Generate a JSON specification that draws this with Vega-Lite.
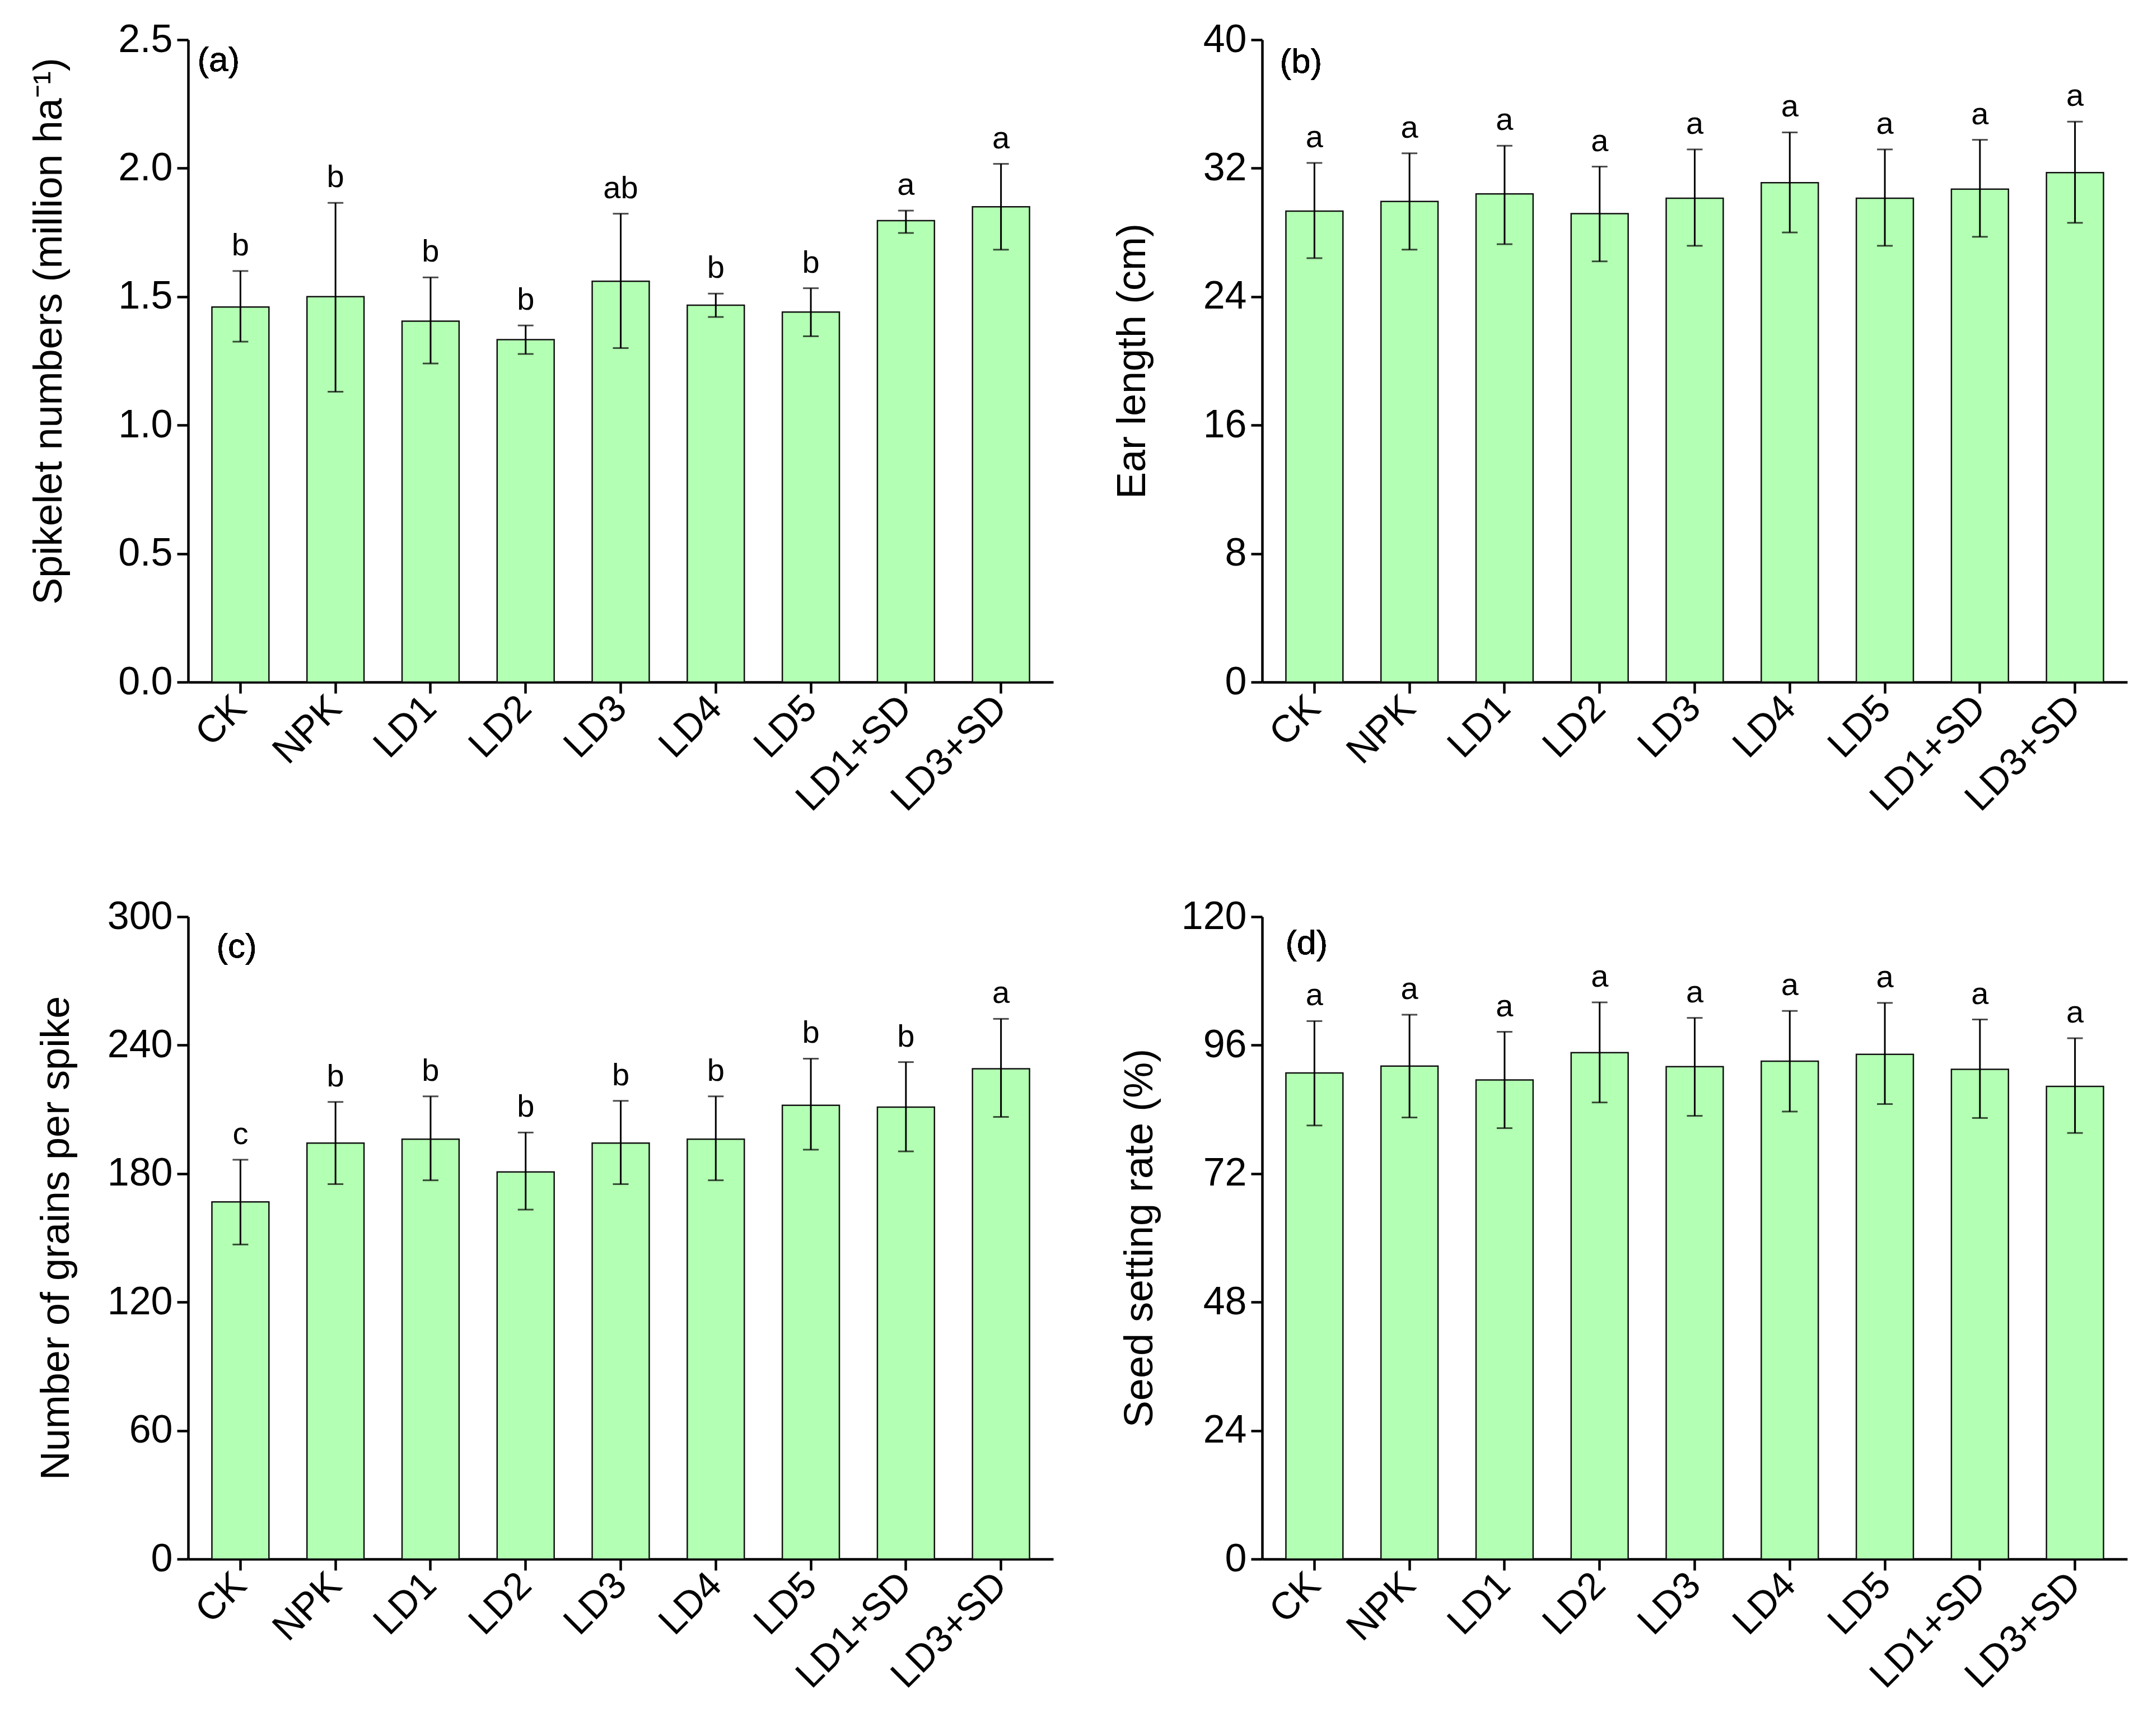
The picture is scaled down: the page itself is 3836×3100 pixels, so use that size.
{
  "$schema": "https://vega.github.io/schema/vega-lite/v6.json",
  "background": "white",
  "padding": {"left": 51, "top": 36, "right": 30, "bottom": 30},
  "datasets": {
    "a": [
      {"trt": "CK", "mean": 1.46, "lo": 1.325, "hi": 1.60, "letter": "b"},
      {"trt": "NPK", "mean": 1.50, "lo": 1.13, "hi": 1.865, "letter": "b"},
      {"trt": "LD1", "mean": 1.405, "lo": 1.24, "hi": 1.575, "letter": "b"},
      {"trt": "LD2", "mean": 1.333, "lo": 1.277, "hi": 1.388, "letter": "b"},
      {"trt": "LD3", "mean": 1.56, "lo": 1.30, "hi": 1.823, "letter": "ab"},
      {"trt": "LD4", "mean": 1.467, "lo": 1.421, "hi": 1.512, "letter": "b"},
      {"trt": "LD5", "mean": 1.44, "lo": 1.346, "hi": 1.533, "letter": "b"},
      {"trt": "LD1+SD", "mean": 1.796, "lo": 1.748, "hi": 1.835, "letter": "a"},
      {"trt": "LD3+SD", "mean": 1.85, "lo": 1.683, "hi": 2.017, "letter": "a"}
    ],
    "b": [
      {"trt": "CK", "mean": 29.33, "lo": 26.4, "hi": 32.33, "letter": "a"},
      {"trt": "NPK", "mean": 29.93, "lo": 26.93, "hi": 32.93, "letter": "a"},
      {"trt": "LD1", "mean": 30.4, "lo": 27.27, "hi": 33.4, "letter": "a"},
      {"trt": "LD2", "mean": 29.17, "lo": 26.2, "hi": 32.1, "letter": "a"},
      {"trt": "LD3", "mean": 30.13, "lo": 27.17, "hi": 33.17, "letter": "a"},
      {"trt": "LD4", "mean": 31.1, "lo": 28.0, "hi": 34.23, "letter": "a"},
      {"trt": "LD5", "mean": 30.13, "lo": 27.17, "hi": 33.17, "letter": "a"},
      {"trt": "LD1+SD", "mean": 30.7, "lo": 27.73, "hi": 33.77, "letter": "a"},
      {"trt": "LD3+SD", "mean": 31.73, "lo": 28.6, "hi": 34.9, "letter": "a"}
    ],
    "c": [
      {"trt": "CK", "mean": 166.8, "lo": 146.9, "hi": 186.5, "letter": "c"},
      {"trt": "NPK", "mean": 194.3, "lo": 175.1, "hi": 213.5, "letter": "b"},
      {"trt": "LD1", "mean": 196.1, "lo": 176.9, "hi": 216.1, "letter": "b"},
      {"trt": "LD2", "mean": 180.8, "lo": 163.2, "hi": 199.2, "letter": "b"},
      {"trt": "LD3", "mean": 194.3, "lo": 175.1, "hi": 214.0, "letter": "b"},
      {"trt": "LD4", "mean": 196.1, "lo": 176.9, "hi": 216.1, "letter": "b"},
      {"trt": "LD5", "mean": 211.9, "lo": 191.2, "hi": 233.7, "letter": "b"},
      {"trt": "LD1+SD", "mean": 211.1, "lo": 190.4, "hi": 232.1, "letter": "b"},
      {"trt": "LD3+SD", "mean": 229.0, "lo": 206.5, "hi": 252.3, "letter": "a"}
    ],
    "d": [
      {"trt": "CK", "mean": 90.8, "lo": 81.0, "hi": 100.5, "letter": "a"},
      {"trt": "NPK", "mean": 92.1, "lo": 82.5, "hi": 101.7, "letter": "a"},
      {"trt": "LD1", "mean": 89.5, "lo": 80.5, "hi": 98.5, "letter": "a"},
      {"trt": "LD2", "mean": 94.6, "lo": 85.3, "hi": 104.0, "letter": "a"},
      {"trt": "LD3", "mean": 92.0, "lo": 82.8, "hi": 101.1, "letter": "a"},
      {"trt": "LD4", "mean": 93.0, "lo": 83.6, "hi": 102.4, "letter": "a"},
      {"trt": "LD5", "mean": 94.3, "lo": 85.0, "hi": 103.9, "letter": "a"},
      {"trt": "LD1+SD", "mean": 91.5, "lo": 82.4, "hi": 100.8, "letter": "a"},
      {"trt": "LD3+SD", "mean": 88.3, "lo": 79.6, "hi": 97.3, "letter": "a"}
    ]
  },
  "columns": 2,
  "spacing": {"row": 140, "column": 105},
  "concat": [
    {
      "width": 1545, "height": 1147,
      "data": {"name": "a"},
      "encoding": {
        "x": {"field": "trt", "type": "nominal", "sort": null, "scale": {"paddingInner": 0.4, "paddingOuter": 0.25}, "axis": {"title": null}}
      },
      "layer": [
        {"mark": {"type": "bar", "fill": "#b3ffb3", "stroke": "#111111", "strokeWidth": 2.5},
         "encoding": {"y": {"field": "mean", "type": "quantitative", "title": "Spikelet numbers (million ha⁻¹)", "scale": {"domain": [0, 2.5], "nice": false}, "axis": {"values": [0, 0.5, 1.0, 1.5, 2.0, 2.5], "format": ".1f", "titlePadding": 86, "titleY": 520}}}},
        {"mark": {"type": "errorbar", "ticks": {"size": 28, "thickness": 3, "color": "black"}, "rule": {"strokeWidth": 3, "color": "black"}},
         "encoding": {"y": {"field": "lo", "type": "quantitative", "title": "Spikelet numbers (million ha⁻¹)"}, "y2": {"field": "hi"}}},
        {"mark": {"type": "text", "fontSize": 56, "baseline": "alphabetic", "dy": -28, "color": "black"},
         "encoding": {"y": {"field": "hi", "type": "quantitative", "title": "Spikelet numbers (million ha⁻¹)"}, "text": {"field": "letter"}}},
        {"mark": {"type": "text", "fontSize": 62, "align": "left", "baseline": "middle", "dx": -77, "color": "black"},
         "encoding": {"x": {"datum": "CK"}, "y": {"datum": 2.42, "title": "Spikelet numbers (million ha⁻¹)"}, "text": {"value": "(a)"}}}
      ]
    },
    {
      "width": 1545, "height": 1147,
      "data": {"name": "b"},
      "encoding": {
        "x": {"field": "trt", "type": "nominal", "sort": null, "scale": {"paddingInner": 0.4, "paddingOuter": 0.25}, "axis": {"title": null}}
      },
      "layer": [
        {"mark": {"type": "bar", "fill": "#b3ffb3", "stroke": "#111111", "strokeWidth": 2.5},
         "encoding": {"y": {"field": "mean", "type": "quantitative", "title": "Ear length (cm)", "scale": {"domain": [0, 40], "nice": false}, "axis": {"values": [0, 8, 16, 24, 32, 40], "titlePadding": 89}}}},
        {"mark": {"type": "errorbar", "ticks": {"size": 28, "thickness": 3, "color": "black"}, "rule": {"strokeWidth": 3, "color": "black"}},
         "encoding": {"y": {"field": "lo", "type": "quantitative", "title": "Ear length (cm)"}, "y2": {"field": "hi"}}},
        {"mark": {"type": "text", "fontSize": 56, "baseline": "alphabetic", "dy": -28, "color": "black"},
         "encoding": {"y": {"field": "hi", "type": "quantitative", "title": "Ear length (cm)"}, "text": {"field": "letter"}}},
        {"mark": {"type": "text", "fontSize": 62, "align": "left", "baseline": "middle", "dx": -62, "color": "black"},
         "encoding": {"x": {"datum": "CK"}, "y": {"datum": 38.6, "title": "Ear length (cm)"}, "text": {"value": "(b)"}}}
      ]
    },
    {
      "width": 1545, "height": 1147,
      "data": {"name": "c"},
      "encoding": {
        "x": {"field": "trt", "type": "nominal", "sort": null, "scale": {"paddingInner": 0.4, "paddingOuter": 0.25}, "axis": {"title": null}}
      },
      "layer": [
        {"mark": {"type": "bar", "fill": "#b3ffb3", "stroke": "#111111", "strokeWidth": 2.5},
         "encoding": {"y": {"field": "mean", "type": "quantitative", "title": "Number of grains per spike", "scale": {"domain": [0, 300], "nice": false}, "axis": {"values": [0, 60, 120, 180, 240, 300], "titlePadding": 54}}}},
        {"mark": {"type": "errorbar", "ticks": {"size": 28, "thickness": 3, "color": "black"}, "rule": {"strokeWidth": 3, "color": "black"}},
         "encoding": {"y": {"field": "lo", "type": "quantitative", "title": "Number of grains per spike"}, "y2": {"field": "hi"}}},
        {"mark": {"type": "text", "fontSize": 56, "baseline": "alphabetic", "dy": -28, "color": "black"},
         "encoding": {"y": {"field": "hi", "type": "quantitative", "title": "Number of grains per spike"}, "text": {"field": "letter"}}},
        {"mark": {"type": "text", "fontSize": 62, "align": "left", "baseline": "middle", "dx": -43, "color": "black"},
         "encoding": {"x": {"datum": "CK"}, "y": {"datum": 286, "title": "Number of grains per spike"}, "text": {"value": "(c)"}}}
      ]
    },
    {
      "width": 1545, "height": 1147,
      "data": {"name": "d"},
      "encoding": {
        "x": {"field": "trt", "type": "nominal", "sort": null, "scale": {"paddingInner": 0.4, "paddingOuter": 0.25}, "axis": {"title": null}}
      },
      "layer": [
        {"mark": {"type": "bar", "fill": "#b3ffb3", "stroke": "#111111", "strokeWidth": 2.5},
         "encoding": {"y": {"field": "mean", "type": "quantitative", "title": "Seed setting rate (%)", "scale": {"domain": [0, 120], "nice": false}, "axis": {"values": [0, 24, 48, 72, 96, 120], "titlePadding": 37}}}},
        {"mark": {"type": "errorbar", "ticks": {"size": 28, "thickness": 3, "color": "black"}, "rule": {"strokeWidth": 3, "color": "black"}},
         "encoding": {"y": {"field": "lo", "type": "quantitative", "title": "Seed setting rate (%)"}, "y2": {"field": "hi"}}},
        {"mark": {"type": "text", "fontSize": 56, "baseline": "alphabetic", "dy": -28, "color": "black"},
         "encoding": {"y": {"field": "hi", "type": "quantitative", "title": "Seed setting rate (%)"}, "text": {"field": "letter"}}},
        {"mark": {"type": "text", "fontSize": 62, "align": "left", "baseline": "middle", "dx": -52, "color": "black"},
         "encoding": {"x": {"datum": "CK"}, "y": {"datum": 115, "title": "Seed setting rate (%)"}, "text": {"value": "(d)"}}}
      ]
    }
  ],
  "config": {
    "font": "Liberation Sans",
    "view": {"stroke": null},
    "text": {"font": "Liberation Sans"},
    "axis": {
      "grid": false,
      "domainColor": "black", "domainWidth": 4.5,
      "tickColor": "black", "tickWidth": 4.5, "tickSize": 20,
      "labelFont": "Liberation Sans", "labelFontSize": 70, "labelColor": "black", "labelPadding": 8, "labelLimit": 1000,
      "titleFont": "Liberation Sans", "titleFontSize": 72, "titleFontWeight": "normal", "titleColor": "black"
    },
    "axisX": {"labelAngle": -45, "labelAlign": "right", "labelBaseline": "middle", "labelPadding": 16, "labelFontSize": 68}
  }
}
